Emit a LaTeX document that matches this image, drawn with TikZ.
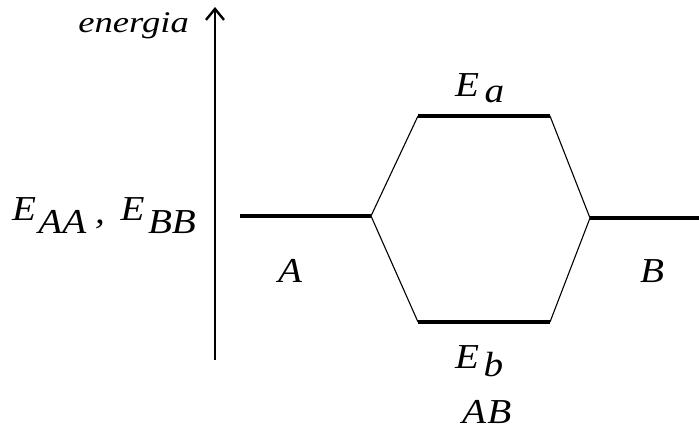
\documentclass[tikz,border=0pt]{standalone}
\usepackage{fontspec}
\setmainfont{Liberation Serif}
\usetikzlibrary{arrows.meta}
\newcommand{\wlab}[1]{\scalebox{1.12}[1]{#1}}
\newcommand{\wen}[1]{\scalebox{1.22}[1]{#1}}
\begin{document}
\begin{tikzpicture}[x=1pt,y=-1pt,
  level/.style={line width=3.2pt},
  link/.style={line width=1.1pt},
  lbl/.style={inner sep=0pt,anchor=base west,font=\fontsize{35}{38}\selectfont\itshape}]
\useasboundingbox (0,0) rectangle (699,430);
% axis
\coordinate (ax0) at (215,360);
\coordinate (ax1) at (215,7);
\draw[line width=2.8pt,-{Straight Barb[length=11pt,width=18pt,line width=2.4pt]}] (ax0) -- (ax1);
% levels
\coordinate (a1) at (240,216); \coordinate (a2) at (371,216);
\coordinate (t1) at (418,116); \coordinate (t2) at (550,116);
\coordinate (b1) at (418,322); \coordinate (b2) at (550,322);
\coordinate (c1) at (590,218); \coordinate (c2) at (699,218);
\draw[level] (a1) -- (a2);
\draw[level] (t1) -- (t2);
\draw[level] (b1) -- (b2);
\draw[level] (c1) -- (c2);
\draw[link] (a2) -- (t1);
\draw[link] (a2) -- (b1);
\draw[link] (t2) -- (c1);
\draw[link] (b2) -- (c1);
% labels
\node[lbl,anchor=base east,font=\fontsize{30}{34}\selectfont\itshape] (en) at (189,33) {\wen{energia}};
\node[lbl] (eaabb) at (12,221) {\wlab{E\hspace{2pt}\raisebox{-13pt}{AA}\hspace{8pt}\raisebox{-3pt}{,}\hspace{14pt}E\hspace{3pt}\raisebox{-13pt}{BB}}};
\node[lbl] (ea) at (455,97) {\wlab{E\hspace{5pt}\raisebox{-6pt}{a}}};
\node[lbl] (eb) at (455,368) {\wlab{E\hspace{4pt}\raisebox{-9pt}{b}}};
\node[lbl] (ab) at (462,423) {\wlab{A\hspace{1pt}B}};
\node[lbl] (la) at (278,283) {\wlab{A}};
\node[lbl] (lb) at (640,283) {\wlab{B}};
\end{tikzpicture}
\end{document}
